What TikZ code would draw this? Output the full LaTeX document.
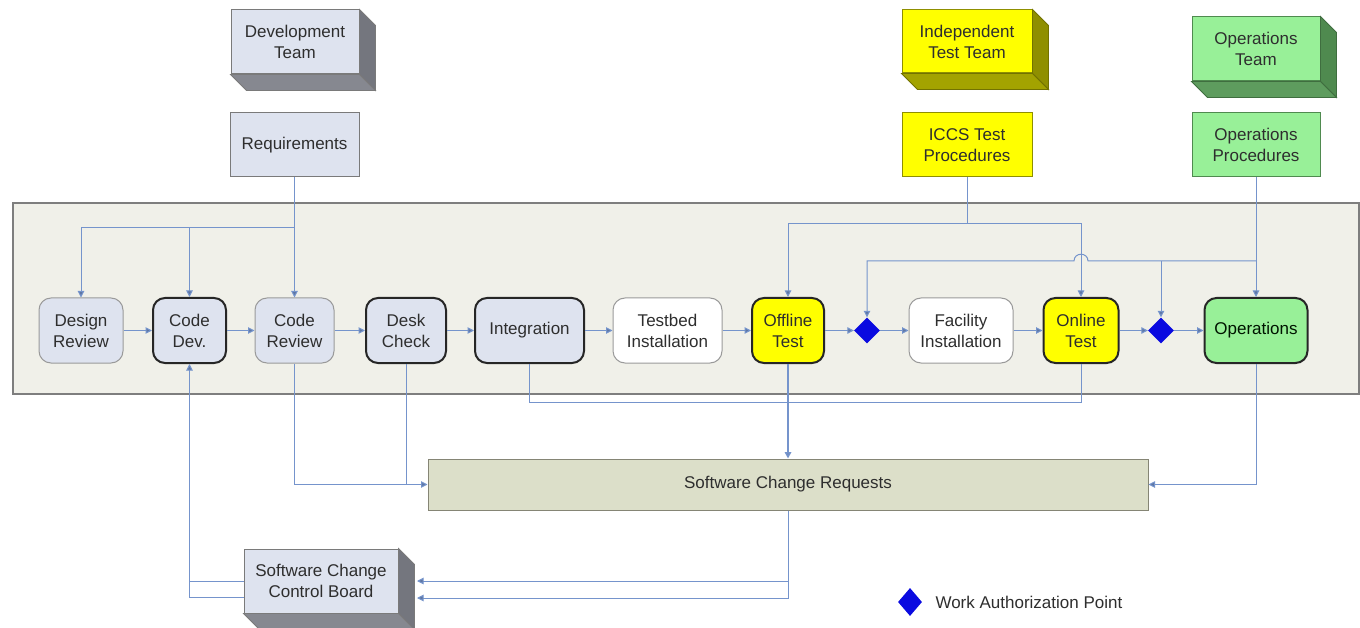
\documentclass[tikz,border=0pt]{standalone}
\usepackage{fontspec}
\setmainfont{Liberation Sans}
\usetikzlibrary{shapes.geometric,arrows.meta,calc}
\definecolor{boxblue}{HTML}{DEE3EF}
\definecolor{flatedge}{HTML}{7A7A7A}
\definecolor{gside}{HTML}{74767E}
\definecolor{gbottom}{HTML}{868890}
\definecolor{yfront}{HTML}{FFFF00}
\definecolor{yside}{HTML}{8F8F00}
\definecolor{ybottom}{HTML}{A3A300}
\definecolor{gfront}{HTML}{98F098}
\definecolor{grside}{HTML}{4F8A4F}
\definecolor{grbottom}{HTML}{5E9C5E}
\definecolor{lanefill}{HTML}{F0F0E9}
\definecolor{laneedge}{HTML}{7E7E7E}
\definecolor{scrfill}{HTML}{DCDFC9}
\definecolor{scredge}{HTML}{858575}
\definecolor{thinedge}{HTML}{9A9A9A}
\definecolor{strongedge}{HTML}{262626}
\definecolor{linec}{HTML}{7594CC}
\definecolor{diablue}{HTML}{0A0AE0}
\definecolor{txt}{HTML}{2E2E2E}
\newcommand\extrude[4]{%
  \fill[#2,draw=#4,line width=0.8pt] (#1.north east) -- ++(16,16) -- ($(#1.south east)+(16,16)$) -- (#1.south east) -- cycle;
  \fill[#3,draw=#4,line width=0.8pt] (#1.south west) -- (#1.south east) -- ($(#1.south east)+(16,16)$) -- ($(#1.south west)+(16,16)$) -- cycle;
}
\begin{document}
\begin{tikzpicture}[x=1pt,y=-1pt,
  font=\fontsize{17}{21}\selectfont,
  flat/.style={draw=flatedge, line width=1pt, inner sep=0pt, align=center, text=txt},
  proc/.style={rounded corners=12pt, draw=thinedge, line width=1pt, minimum height=65pt, inner sep=0pt, align=center, text=txt},
  strong/.style={draw=strongedge, line width=2pt},
  gate/.style={diamond, fill=diablue, minimum width=26pt, minimum height=26pt, inner sep=0pt},
  conn/.style={draw=linec, line width=1pt},
  arr/.style={conn, -{Triangle[width=6.5pt,length=6.5pt,fill=linec!80!black]}}]
\useasboundingbox (0,0) rectangle (1360,628);
\fill[white] (0,0) rectangle (1360,628);

% swimlane
\draw[fill=lanefill, draw=laneedge, line width=1.2pt] (13,203) rectangle (1359,394);

% top boxes
\node[flat, fill=boxblue, minimum width=128pt, minimum height=64pt] (devteam) at (295,42) {Development\\Team};
\extrude{devteam}{gside}{gbottom}{flatedge}
\node[flat, fill=boxblue, minimum width=129pt, minimum height=64pt] (req) at (294.5,145) {Requirements};

\node[flat, fill=yfront, draw=yside, minimum width=130pt, minimum height=63pt] (itt) at (967,41.5) {Independent\\Test Team};
\extrude{itt}{yside}{ybottom}{yside!80!black}
\node[flat, fill=yfront, draw=yside, minimum width=130pt, minimum height=64pt] (iccs) at (967,145) {ICCS Test\\Procedures};

\node[flat, fill=gfront, draw=grside, minimum width=128pt, minimum height=64pt] (opsteam) at (1256,49) {Operations\\Team};
\extrude{opsteam}{grside}{grbottom}{grside!80!black}
\node[flat, fill=gfront, draw=grside, minimum width=128pt, minimum height=64pt] (opsproc) at (1256,145) {Operations\\Procedures};

% process nodes
\node[proc, fill=boxblue, minimum width=84pt] (dr) at (81,330.5) {Design\\Review};
\node[proc, strong, fill=boxblue, minimum width=73pt] (cd) at (189.5,330.5) {Code\\Dev.};
\node[proc, fill=boxblue, minimum width=79pt] (cr) at (294.5,330.5) {Code\\Review};
\node[proc, strong, fill=boxblue, minimum width=80pt] (dc) at (406,330.5) {Desk\\Check};
\node[proc, strong, fill=boxblue, minimum width=109pt] (integ) at (529.5,330.5) {Integration};
\node[proc, fill=white, minimum width=109pt] (tb) at (667.5,330.5) {Testbed\\Installation};
\node[proc, strong, fill=yfront, minimum width=72pt] (off) at (788,330.5) {Offline\\Test};
\node[gate] (d1) at (867,330.5) {};
\node[proc, fill=white, minimum width=104pt] (fi) at (961,330.5) {Facility\\Installation};
\node[proc, strong, fill=yfront, minimum width=75pt] (on) at (1081,330.5) {Online\\Test};
\node[gate] (d2) at (1161,330.5) {};
\node[proc, strong, fill=gfront, minimum width=103pt, text=black!80!green!40!black] (ops) at (1256,330.5) {Operations};

% lower boxes
\node[flat, fill=scrfill, draw=scredge, minimum width=720pt, minimum height=51pt] (scr) at (788,484.5) {Software Change Requests};
\node[flat, fill=boxblue, minimum width=154pt, minimum height=64pt] (sccb) at (321,581) {Software Change\\Control Board};
\extrude{sccb}{gside}{gbottom}{flatedge}

% legend
\node[diamond, fill=diablue, minimum width=24pt, minimum height=28pt, inner sep=0pt] (leg) at (910,602) {};
\node[anchor=west, text=txt] (legtext) at (932,602) {Work Authorization Point};

% flow arrows
\draw[arr] (dr) -- (cd);
\draw[arr] (cd) -- (cr);
\draw[arr] (cr) -- (dc);
\draw[arr] (dc) -- (integ);
\draw[arr] (integ) -- (tb);
\draw[arr] (tb) -- (off);
\draw[arr] (off) -- (d1);
\draw[arr] (d1) -- (fi);
\draw[arr] (fi) -- (on);
\draw[arr] (on) -- (d2);
\draw[arr] (d2) -- (ops);

% requirements feed
\coordinate (rj) at (294.5,228);
\draw[conn] (req.south) -- (rj);
\draw[arr] (rj) -- (cr.north);
\draw[arr] (rj) -| (dr.north);
\draw[arr] (rj -| cd.north) -- (cd.north);

% ICCS feed
\coordinate (ij) at (967,224);
\draw[conn] (iccs.south) -- (ij);
\draw[arr] (ij) -| (off.north);
\draw[arr] (ij) -| (on.north);

% operations procedures feed
\coordinate (oj) at (1256,261);
\draw[arr] (opsproc.south) -- (ops.north);
\draw[arr] (oj) -- (1088,261) .. controls (1088,252) and (1074,252) .. (1074,261) -| (d1.north);
\draw[arr] (oj -| d2.north) -- (d2.north);

% to software change requests
\draw[arr] (cr.south) |- (scr.west);
\draw[conn] (dc.south) -- (dc.south |- scr.west);
\coordinate (lb) at (788,402);
\draw[conn] (integ.south) |- (lb);
\draw[conn] (on.south) |- (lb);
\draw[arr, line width=1.6pt] (off.south) -- (scr.north);
\draw[arr] (ops.south) |- (scr.east);

% to / from control board
\coordinate (sa) at (417,581);
\coordinate (sb) at (417,598);
\draw[arr] (scr.south) |- (sa);
\draw[arr] (scr.south) |- (sb);
\draw[arr] ($(sccb.west)+(0,16)$) -| (cd.south);
\draw[conn] (sccb.west) -- (sccb.west -| cd.south);
\end{tikzpicture}
\end{document}
